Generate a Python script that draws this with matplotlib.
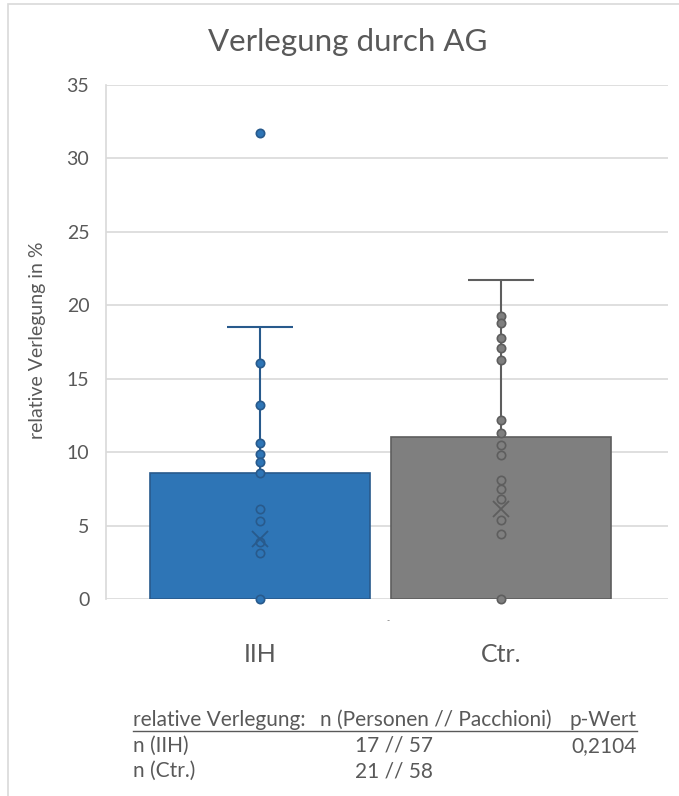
import matplotlib
matplotlib.use("Agg")
import matplotlib.pyplot as plt
from matplotlib.patches import Rectangle
import matplotlib.transforms as mtransforms

plt.rcParams['font.family'] = ['Lato', 'DejaVu Sans']

# ---- data ----
categories = ["IIH", "Ctr."]
bar_values = [8.6, 11.0]
whisker_top = [18.5, 21.7]
mean_values = [4.1, 6.1]
iih_points = [31.7, 16.1, 13.2, 10.6, 9.9, 9.3, 8.6, 6.1, 5.3, 3.9, 3.1, 0.0]
ctr_points = [19.3, 18.8, 17.8, 17.1, 16.3, 12.2, 11.3, 10.5, 9.8, 8.1, 7.5, 6.8, 5.4, 4.4, 0.0]
points = [iih_points, ctr_points]
y_ticks = [0, 5, 10, 15, 20, 25, 30, 35]
table_header = ["relative Verlegung:", "n (Personen // Pacchioni)", "p-Wert"]
table_rows = [["n (IIH)", "17 // 57", "0,2104"],
              ["n (Ctr.)", "21 // 58", ""]]

face_colors = ["#2E75B6", "#7F7F7F"]
edge_colors = ["#285A8C", "#5E5E5E"]
text_color = "#595959"

W, H = 679, 796
fig = plt.figure(figsize=(W / 100, H / 100), dpi=100)

# chart border
fig.patches.append(Rectangle((8 / W, -0.01), 1.2, 1 - 4 / H + 0.01, transform=fig.transFigure,
                             fill=False, edgecolor="#D9D9D9", linewidth=1.2))

ax = fig.add_axes([106 / W, 1 - 599 / H, (668 - 106) / W, (599 - 85) / H])
xpos = [0, 1]
ax.set_xlim(-0.639, 1.693)
ax.set_ylim(0, 35)
ax.set_yticks(y_ticks)
ax.set_yticklabels([str(t) for t in y_ticks])
ax.yaxis.grid(True, color="#D9D9D9", linewidth=1.2)
ax.set_axisbelow(True)
for s in ["top", "right", "bottom"]:
    ax.spines[s].set_visible(False)
ax.spines["left"].set_color("#D9D9D9")
ax.spines["left"].set_linewidth(1.2)
ax.tick_params(axis="y", length=0, pad=12, labelsize=14, labelcolor=text_color)
ax.set_xticks([])

ax.bar(xpos, bar_values, width=0.91, color=face_colors, edgecolor=edge_colors,
       linewidth=1.2, zorder=2)

for i, x in enumerate(xpos):
    ax.vlines(x, bar_values[i], whisker_top[i], color=edge_colors[i], linewidth=1.5, zorder=3)
    ax.hlines(whisker_top[i], x - 0.135, x + 0.135, color=edge_colors[i], linewidth=1.5, zorder=3)
    ax.plot([x] * len(points[i]), points[i], linestyle="none", marker="o", markersize=6,
            markerfacecolor=face_colors[i], markeredgecolor=edge_colors[i],
            markeredgewidth=1.2, zorder=4, clip_on=False)
    ax.plot([x], [mean_values[i]], linestyle="none", marker="x", markersize=11,
            markeredgecolor=edge_colors[i], markeredgewidth=1.3, zorder=5)

# category labels
trans = mtransforms.blended_transform_factory(ax.transData, fig.transFigure)
for i, x in enumerate(xpos):
    ax.text(x, 1 - 655 / H, categories[i], transform=trans, ha="center", va="center",
            fontsize=18, color=text_color)
ax.text(0.53, 1 - 621 / H, "-", transform=trans, ha="center", va="center",
        fontsize=6, color=text_color)

# title and y label
fig.text(348 / W, 1 - 42 / H, "Verlegung durch AG", ha="center", va="center",
         fontsize=22.5, color=text_color)
fig.text(38 / W, 1 - 340 / H, "relative Verlegung in %", ha="center", va="center",
         rotation=90, fontsize=14, color=text_color)

# table below
fs = 15
fig.text(133 / W, 1 - 720 / H, table_header[0], ha="left", va="center", fontsize=fs, color=text_color)
fig.text(436 / W, 1 - 720 / H, table_header[1], ha="center", va="center", fontsize=fs, color=text_color)
fig.text(637 / W, 1 - 720 / H, table_header[2], ha="right", va="center", fontsize=fs, color=text_color)
fig.add_artist(plt.Line2D([133 / W, 637 / W], [1 - 731 / H, 1 - 731 / H], color=text_color,
                          linewidth=1.0, transform=fig.transFigure))
for r, row in enumerate(table_rows):
    yy = 1 - (746 + 25 * r) / H
    fig.text(133 / W, yy, row[0], ha="left", va="center", fontsize=fs, color=text_color)
    fig.text(394 / W, yy, row[1], ha="center", va="center", fontsize=fs, color=text_color)
    if row[2]:
        fig.text(637 / W, yy, row[2], ha="right", va="center", fontsize=fs, color=text_color)

fig.savefig("out.png", dpi=100)
